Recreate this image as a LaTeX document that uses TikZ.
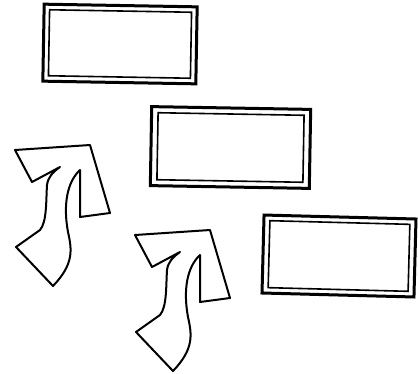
\documentclass[tikz,border=0pt]{standalone}
\begin{document}
\begin{tikzpicture}[x=1pt,y=-1pt,
  outerbox/.style={draw, line width=3pt, inner sep=0pt, outer sep=0pt, fill=white},
  innerbox/.style={draw, line width=1.6pt, inner sep=0pt, outer sep=0pt},
  bigarrow/.pic={
    \draw[line width=2pt, line join=round, fill=white]
      (15,150) -- (90,145) -- (110,213) -- (80,217) -- (80,170)
      .. controls (67,182) and (63,205) .. (68,232)
      .. controls (72,250) and (74,264) .. (53,286)
      -- (16,247) -- (40,230)
      .. controls (47,222) and (46,200) .. (47,185)
      .. controls (48,177) and (53,172) .. (60,167)
      -- (32,182) -- cycle;
  }]
\useasboundingbox (0,0) rectangle (418,373);
% boxes
\node[outerbox, minimum width=153pt, minimum height=77pt, rotate=-1] (b1) at (120,44) {};
\node[innerbox, minimum width=142pt, minimum height=66pt, rotate=-1] (b1i) at (b1.center) {};
\node[outerbox, minimum width=159pt, minimum height=79pt, rotate=-1] (b2) at (230.5,147.5) {};
\node[innerbox, minimum width=146pt, minimum height=67pt, rotate=-1] (b2i) at (b2.center) {};
\node[outerbox, minimum width=152pt, minimum height=78pt, rotate=-1.5] (b3) at (339,256) {};
\node[innerbox, minimum width=140pt, minimum height=67pt, rotate=-1.5] (b3i) at (b3.center) {};
% arrows
\pic at (0,0) {bigarrow};
\pic at (120,85) {bigarrow};
\end{tikzpicture}
\end{document}
